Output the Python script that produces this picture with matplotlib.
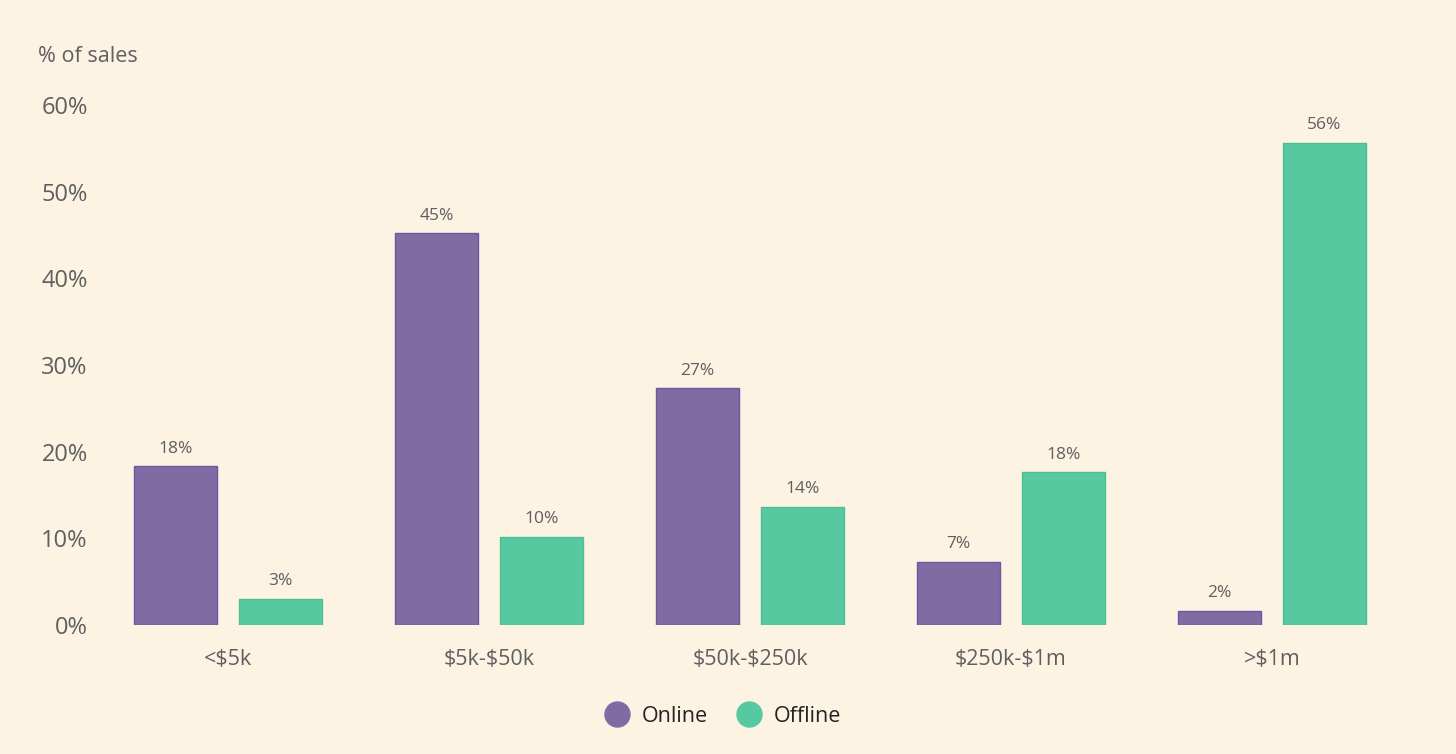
import numpy as np
import matplotlib.pyplot as plt
from matplotlib.lines import Line2D

categories = ['<$5k', '$5k-$50k', '$50k-$250k', '$250k-$1m', '>$1m']
online = [18.3, 45.2, 27.3, 7.3, 1.6]
offline = [3.0, 10.2, 13.6, 17.6, 55.6]
yticks = [0, 10, 20, 30, 40, 50, 60]

bg = '#fcf3e3'
purple = '#7f6ca3'
green = '#57c9a0'
grey = '#5f5f5f'

plt.rcParams['font.family'] = ['Open Sans', 'DejaVu Sans']
plt.rcParams['text.parse_math'] = False

fig = plt.figure(figsize=(14.56, 7.54), dpi=100, facecolor=bg)
ax = fig.add_axes([97.5 / 1456, 129 / 754, 1305 / 1456, 520 / 754])
ax.set_facecolor(bg)

x = np.arange(len(categories))
w = 0.318
off = 0.201
b1 = ax.bar(x - off, online, w, color=purple, edgecolor='#6c58a0', linewidth=1)
b2 = ax.bar(x + off, offline, w, color=green, edgecolor='#4cc092', linewidth=1)

for bars, vals in ((b1, online), (b2, offline)):
    for r, v in zip(bars, vals):
        ax.annotate(f'{v:.0f}%', (r.get_x() + r.get_width() / 2, v),
                    xytext=(0, 7), textcoords='offset points',
                    ha='center', va='bottom', fontsize=12.5, color=grey)

ax.set_xlim(-0.5, 4.5)
ax.set_ylim(0, 60)
ax.set_yticks(yticks)
ax.set_yticklabels([f'{t}%' for t in yticks])
ax.set_xticks(x)
ax.set_xticklabels(categories)
ax.tick_params(axis='both', length=0, colors=grey)
ax.tick_params(axis='y', pad=7, labelsize=17)
ax.tick_params(axis='x', pad=17, labelsize=15.5)
for s in ax.spines.values():
    s.set_visible(False)

fig.text(38 / 1456, 1 - 56 / 754, '% of sales', fontsize=15.5, color=grey,
         ha='left', va='center')

handles = [Line2D([], [], marker='o', ls='', markersize=18, color=purple, label='Online'),
           Line2D([], [], marker='o', ls='', markersize=18, color=green, label='Offline')]
fig.legend(handles=handles, loc='center', bbox_to_anchor=(718 / 1456, 1 - 716 / 754),
           ncol=2, frameon=False, fontsize=15.5, handletextpad=0.15, columnspacing=0.9,
           labelcolor='#222222')

fig.savefig('out.png', dpi=100, facecolor=bg)
